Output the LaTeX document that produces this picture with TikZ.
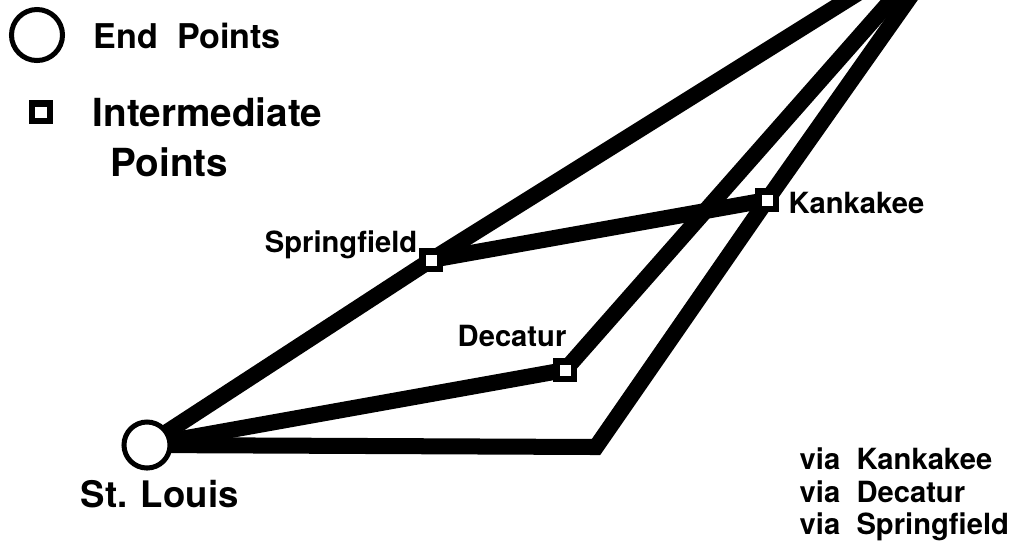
\documentclass[tikz,border=0pt]{standalone}
\usepackage{fontspec}
\setmainfont{TeX Gyre Heros}
\usetikzlibrary{backgrounds}

\begin{document}
\begin{tikzpicture}[
    x=0.01cm, y=-0.01cm,
    endpoint/.style={circle, draw, fill=white, line width=0.05cm, minimum size=0.46cm, inner sep=0pt},
    midpoint/.style={rectangle, draw, fill=white, line width=0.065cm, minimum size=0.175cm, inner sep=0pt},
    route/.style={line width=0.16cm, line join=miter},
    place/.style={font=\bfseries\fontsize{8.3}{10}\selectfont, inner sep=0pt},
    legend/.style={font=\bfseries\fontsize{11}{13}\selectfont, inner sep=0pt, anchor=base west},
    via/.style={font=\bfseries\fontsize{8.3}{10}\selectfont, inner sep=0pt, anchor=base west},
]
  \useasboundingbox (0,0) rectangle (1027,550);
  \node[endpoint] (stl) at (147,445) {};
  \node[midpoint] (spr) at (431,260) {};
  \node[midpoint] (dec) at (565,370) {};
  \node[midpoint] (kan) at (767,200) {};
  \coordinate (bend) at (596,447);
  \coordinate (chia) at (999,-95);
  \coordinate (chib) at (975,-95);
  \begin{scope}[on background layer]
    \draw[route] (stl.center) -- (spr.center) -- (chia);
    \draw[route] (spr.center) -- (kan.center);
    \draw[route] (stl.center) -- (dec.center) -- (chib);
    \draw[route] (stl.center) -- (bend) -- (kan.center) -- (chib);
  \end{scope}

  \node[place, anchor=base east] (sprlabel) at (418,252) {Springfield};
  \node[place, anchor=base west] (kanlabel) at (788,213) {Kankakee};
  \node[place, anchor=base west] (declabel) at (457,346) {Decatur};
  \node[inner sep=0pt, anchor=base west, font=\bfseries\fontsize{10.4}{12}\selectfont] (stllabel) at (80,507) {St. Louis};

  \node[endpoint, minimum size=0.51cm] (keyend) at (37,35) {};
  \node[legend, font=\bfseries\fontsize{9.7}{12}\selectfont] (keyendtext) at (93,48) {End\ \ Points};
  \node[midpoint] (keymid) at (41,112) {};
  \node[legend] (keymidtext) at (92,126) {Intermediate};
  \node[legend] (keymidtext2) at (110,176) {Points};

  \node[via] (viakan) at (799,469) {via\ \ Kankakee};
  \node[via] (viadec) at (799,502) {via\ \ Decatur};
  \node[via] (viaspr) at (799,534) {via\ \ Springfield};
\end{tikzpicture}
\end{document}
